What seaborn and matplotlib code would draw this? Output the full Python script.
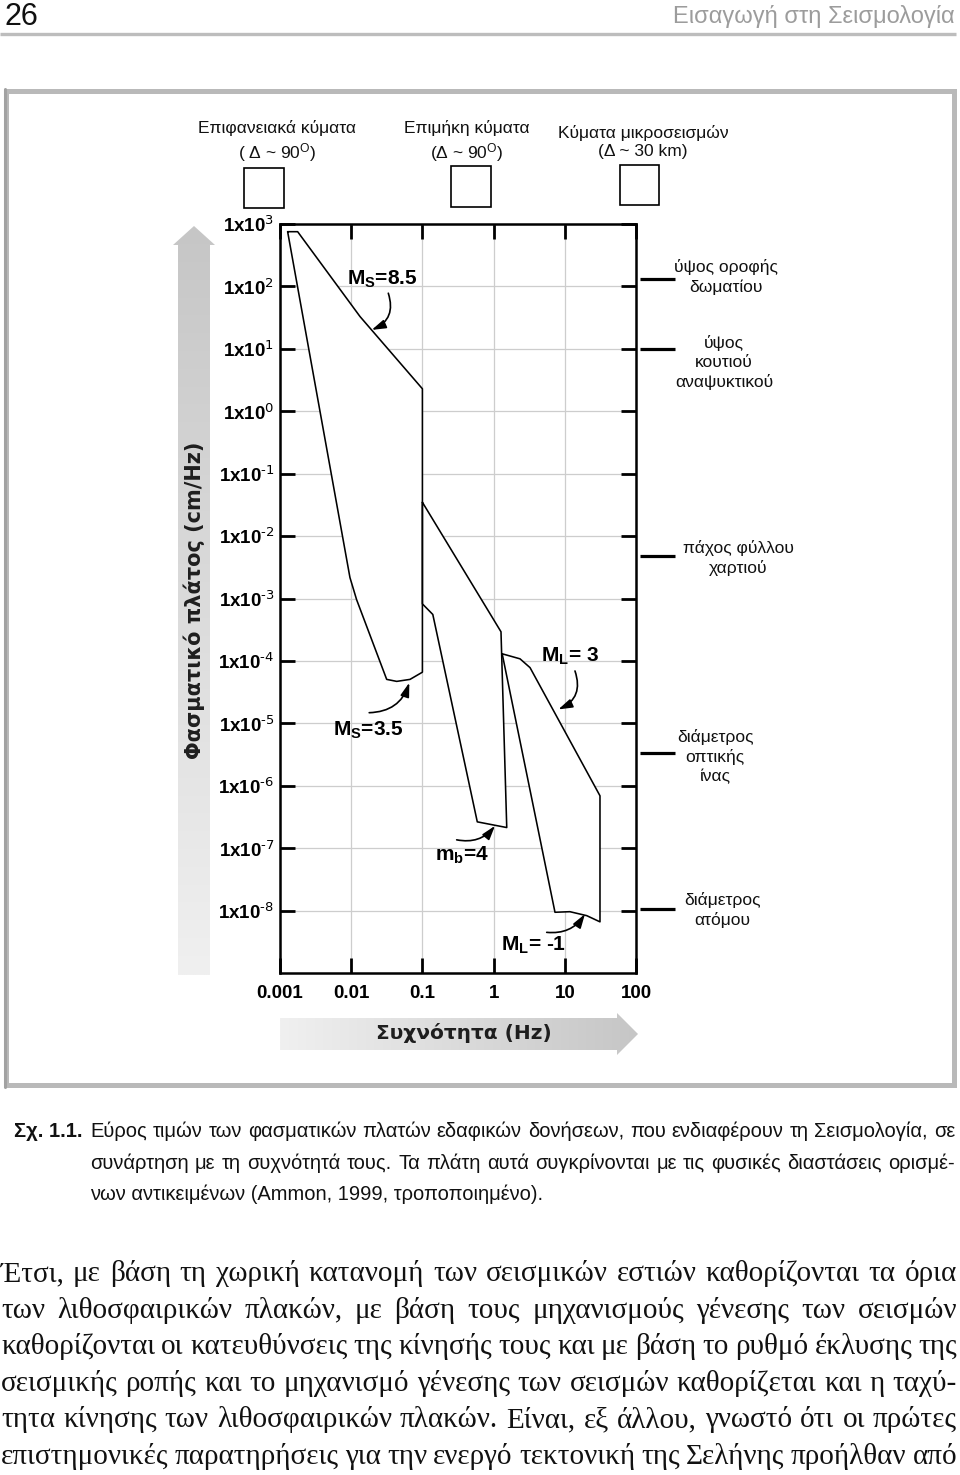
import numpy as np
import matplotlib
matplotlib.use('Agg')
import matplotlib.pyplot as plt
import matplotlib.colors as mcolors
from matplotlib import font_manager
from matplotlib.patches import Rectangle, Polygon
from matplotlib.transforms import blended_transform_factory
from matplotlib.ticker import NullLocator
import pandas as pd
import seaborn as sns

# ---------------- data ----------------
freq_ticks = [0.001, 0.01, 0.1, 1, 10, 100]
freq_tick_labels = ['0.001', '0.01', '0.1', '1', '10', '100']
amp_exponents = [3, 2, 1, 0, -1, -2, -3, -4, -5, -6, -7, -8]

# surface waves: M_S = 8.5 (upper edge) ... M_S = 3.5 (lower edge)
ms_freq = [0.00128, 0.00177, 0.0133, 0.1, 0.1, 0.067, 0.0436, 0.0315, 0.0119, 0.0096]
ms_amp = [753, 753, 32.9, 2.29, 6.6e-5, 5.06e-5, 4.7e-5, 5.06e-5, 9.6e-4, 2.17e-3]
# body waves: m_b = 4
mb_freq = [0.1, 1.27, 1.53, 0.59, 0.14, 0.1]
mb_amp = [0.0348, 2.93e-4, 2.14e-7, 2.64e-7, 5.55e-4, 8.2e-4]
# microearthquake waves: M_L = 3 (upper edge) ... M_L = -1 (lower edge)
ml_freq = [1.32, 2.35, 3.25, 31.2, 31.2, 20.3, 16.3, 11.8, 7.28]
ml_amp = [1.30e-4, 1.08e-4, 7.8e-5, 6.9e-7, 6.6e-9, 8.3e-9, 8.8e-9, 9.6e-9, 9.4e-9]

mag_labels = ['M$_S$=8.5', 'M$_S$=3.5', 'm$_b$=4', 'M$_L$= 3', 'M$_L$= -1']

object_names = ['ύψος οροφής\nδωματίου', 'ύψος\nκουτιού\nαναψυκτικού',
                'πάχος φύλλου\nχαρτιού', 'διάμετρος\nοπτικής\nίνας', 'διάμετρος\nατόμου']
object_sizes = [1.32e2, 1.0e1, 4.75e-3, 3.3e-6, 1.07e-8]

wave_titles = ['Επιφανειακά κύματα\n( Δ ~ 90$^{O}$)', 'Επιμήκη κύματα\n(Δ ~ 90$^{O}$)',
               'Κύματα μικροσεισμών\n(Δ ~ 30 km)']

caption_label = 'Σχ. 1.1.'
caption_lines = ['Εύρος τιμών των φασματικών πλατών εδαφικών δονήσεων, που ενδιαφέρουν τη Σεισμολογία, σε',
                 'συνάρτηση με τη συχνότητά τους. Τα πλάτη αυτά συγκρίνονται με τις φυσικές διαστάσεις ορισμέ-',
                 'νων αντικειμένων (Ammon, 1999, τροποποιημένο).']
body_lines = ['Έτσι, με βάση τη χωρική κατανομή των σεισμικών εστιών καθορίζονται τα όρια',
              'των λιθοσφαιρικών πλακών, με βάση τους μηχανισμούς γένεσης των σεισμών',
              'καθορίζονται οι κατευθύνσεις της κίνησής τους και με βάση το ρυθμό έκλυσης της',
              'σεισμικής ροπής και το μηχανισμό γένεσης των σεισμών καθορίζεται και η ταχύ-',
              'τητα κίνησης των λιθοσφαιρικών πλακών. Είναι, εξ άλλου, γνωστό ότι οι πρώτες',
              'επιστημονικές παρατηρήσεις για την ενεργό τεκτονική της Σελήνης προήλθαν από']

# ---------------- layout (positions only) ----------------
# annotation text / arrow start / arrow tip in data coordinates, arc radius
mag_layout = [
    ((0.0271, 105.7), (0.0332, 77.8), (0.0194, 20.1), -0.45),
    ((0.0174, 6.43e-6), (0.0179, 1.48e-5), (0.0655, 4.48e-5), 0.35),
    ((0.36, 6.27e-8), (0.303, 1.36e-7), (1.046, 2.28e-7), 0.3),
    ((11.8, 9.6e-5), (13.9, 6.9e-5), (8.11, 1.67e-5), -0.45),
    ((3.69, 2.28e-9), (5.57, 4.48e-9), (19.2, 8.8e-9), 0.3),
]
# object label centre x (pixels) and vertical offset (pixels, downward) from the marker
obj_layout = [(726, -2), (724, 14), (738, 2), (715, 3), (722, 1)]
box_layout = [(244, 168, 40, 40), (451, 166, 40, 41), (620, 165, 39, 40)]
title_layout = [(277, 142), (467, 142), (643, 142)]

# ---------------- style ----------------
sns.set_theme(style='white')
names = {f.name for f in font_manager.fontManager.ttflist}
HAS_NARROW = 'Liberation Sans Narrow' in names
NARROW = 'Liberation Sans Narrow' if HAS_NARROW else 'Liberation Sans'
plt.rcParams['font.family'] = ['Liberation Sans', 'DejaVu Sans']
plt.rcParams['mathtext.default'] = 'regular'
plt.rcParams['text.color'] = 'black'

W, H = 960, 1475
fig = plt.figure(figsize=(W / 100, H / 100), dpi=100, facecolor='white')

# page-level overlay axes in pixel coordinates
ax0 = fig.add_axes([0, 0, 1, 1], zorder=0)
ax0.set_autoscale_on(False)
ax0.set_xlim(0, W)
ax0.set_ylim(H, 0)
ax0.axis('off')

# header
ax0.text(5, 17, '26', fontsize=22, ha='left', va='center', color='#111111',
         family=['Liberation Sans', 'DejaVu Sans'])
ax0.text(955, 17, 'Εισαγωγή στη Σεισμολογία', fontsize=17, ha='right', va='center',
         color='#9c9c9c', family=['Liberation Sans', 'DejaVu Sans'])
ax0.plot([0, 956], [33.5, 33.5], color='#bdbdbd', lw=2.4, solid_capstyle='butt')

# figure frame
ax0.add_patch(Rectangle((6, 91), 948, 994, fill=False, edgecolor='#b9b9b9', lw=3.6))
ax0.plot([5, 5], [89, 1087], color='#a2a2a2', lw=2.2)

# gradient arrows
def grad_arrow(verts, extent, horizontal, c_start, c_end):
    cmap = mcolors.LinearSegmentedColormap.from_list('g', [c_start, c_end])
    if horizontal:
        g = np.linspace(0, 1, 256).reshape(1, -1)
    else:
        g = np.linspace(0, 1, 256).reshape(-1, 1)
    im = ax0.imshow(g, extent=extent, cmap=cmap, aspect='auto', origin='upper',
                    interpolation='bilinear', zorder=1)
    poly = Polygon(verts, closed=True, facecolor='none', edgecolor='none')
    ax0.add_patch(poly)
    im.set_clip_path(poly)

grad_arrow([(178, 975), (178, 245), (173, 245), (194, 226), (215, 245), (210, 245), (210, 975)],
           (172, 216, 975, 225), False, '#c6c6c6', '#f0f0f0')
grad_arrow([(280, 1018), (617, 1018), (617, 1013), (638, 1034), (617, 1055), (617, 1050), (280, 1050)],
           (280, 638, 1056, 1012), True, '#f0f0f0', '#c6c6c6')

ax0.text(194, 600, 'Φασματικό πλάτος (cm/Hz)', rotation=90, ha='center', va='center',
         fontsize=15, fontweight='bold', family='DejaVu Sans', color='#1e1e1e', zorder=3)
ax0.text(464, 1033, 'Συχνότητα (Hz)', ha='center', va='center',
         fontsize=14.5, fontweight='bold', family='DejaVu Sans', color='#1e1e1e', zorder=3)

# wave-type titles and empty boxes
for (tx, ty), title in zip(title_layout, wave_titles):
    ax0.text(tx, ty, title, ha='center', va='center', fontsize=12.5, linespacing=1.3,
             color='#111111', family=['Liberation Sans', 'DejaVu Sans'])
for (bx, by, bw, bh) in box_layout:
    ax0.add_patch(Rectangle((bx, by), bw, bh, fill=False, edgecolor='black', lw=1.2))

# ---------------- main chart ----------------
ax = fig.add_axes([280 / W, (H - 973) / H, 356 / W, 749 / H], zorder=2)
ax.set_xscale('log')
ax.set_yscale('log')
ax.set_facecolor('white')

for fr, am in [(ms_freq, ms_amp), (mb_freq, mb_amp), (ml_freq, ml_amp)]:
    ax.fill(fr, am, facecolor='white', edgecolor='none', zorder=2)
    df = pd.DataFrame({'f': fr + [fr[0]], 'a': am + [am[0]]})
    sns.lineplot(data=df, x='f', y='a', sort=False, estimator=None, color='black',
                 lw=1.15, ax=ax, zorder=3)

ax.set_xlim(1e-3, 1e2)
ax.set_ylim(1e-9, 1e3)
ax.set_xlabel('')
ax.set_ylabel('')

tick_size = 14.5 if HAS_NARROW else 13.5
ax.set_xticks(freq_ticks)
ax.set_xticklabels(freq_tick_labels, fontfamily=NARROW, fontweight='bold', fontsize=tick_size)
ax.set_yticks([10.0 ** e for e in amp_exponents])
ax.set_yticklabels(['1x10$^{\\text{%d}}$' % e for e in amp_exponents], fontfamily=NARROW,
                   fontweight='bold', fontsize=tick_size)
ax.xaxis.set_minor_locator(NullLocator())
ax.yaxis.set_minor_locator(NullLocator())
ax.tick_params(axis='both', which='major', direction='in', length=11, width=2.0,
               top=True, right=True, bottom=True, left=True, colors='black')
ax.tick_params(axis='x', pad=9)
ax.tick_params(axis='y', pad=4)
ax.grid(True, which='major', color='#cdcdcd', lw=0.9)
ax.set_axisbelow(True)
for s in ax.spines.values():
    s.set_visible(True)
    s.set_color('black')
    s.set_linewidth(1.8)

# magnitude annotations
mag_size = 16.5 if HAS_NARROW else 15
for lab, (txt, start, tip, rad) in zip(mag_labels, mag_layout):
    ax.text(txt[0], txt[1], lab, ha='center', va='baseline', fontsize=mag_size,
            fontweight='bold', family=NARROW, zorder=5)
    ax.annotate('', xy=tip, xytext=start, zorder=5,
                arrowprops=dict(arrowstyle='-|>,head_length=0.7,head_width=0.22',
                                color='black', lw=1.2, mutation_scale=12,
                                shrinkA=0, shrinkB=0,
                                connectionstyle='arc3,rad=%s' % rad))

# physical object size markers
trans = blended_transform_factory(ax.transAxes, ax.transData)
for name, size, (cx, dy) in zip(object_names, object_sizes, obj_layout):
    ax.plot([1.011, 1.110], [size, size], transform=trans, clip_on=False,
            color='black', lw=2.3, solid_capstyle='butt')
    ax.annotate(name, xy=(1.0, size), xycoords=trans,
                xytext=(cx - 636, -dy), textcoords='offset pixels',
                ha='center', va='center', fontsize=12.5, linespacing=1.33,
                multialignment='center', color='#111111',
                family=['Liberation Sans', 'DejaVu Sans'], annotation_clip=False)

# ---------------- caption and body text ----------------
renderer = fig.canvas.get_renderer()

def justified(words_line, x0, x1, yb, **kw):
    words = words_line.split(' ')
    texts, widths = [], []
    for w in words:
        t = ax0.text(0, yb, w, ha='left', va='baseline', **kw)
        texts.append(t)
        widths.append(t.get_window_extent(renderer).width)
    gap = (x1 - x0 - sum(widths)) / (len(words) - 1)
    x = x0
    for t, w in zip(texts, widths):
        t.set_x(x)
        x += w + gap

cap_kw = dict(fontsize=14.5, family=[NARROW, 'DejaVu Sans'], color='#111111')
ax0.text(14, 1137, caption_label, ha='left', va='baseline', fontweight='bold', **cap_kw)
justified(caption_lines[0], 90, 955, 1137, **cap_kw)
justified(caption_lines[1], 90, 955, 1169, **cap_kw)
ax0.text(90, 1200, caption_lines[2], ha='left', va='baseline', **cap_kw)

body_kw = dict(fontsize=21, family=['Liberation Serif', 'DejaVu Serif'], color='#111111')
for i, line in enumerate(body_lines):
    justified(line, 1, 957, 1281 + i * 36.6, **body_kw)

fig.savefig('out.png', dpi=100, facecolor='white')
